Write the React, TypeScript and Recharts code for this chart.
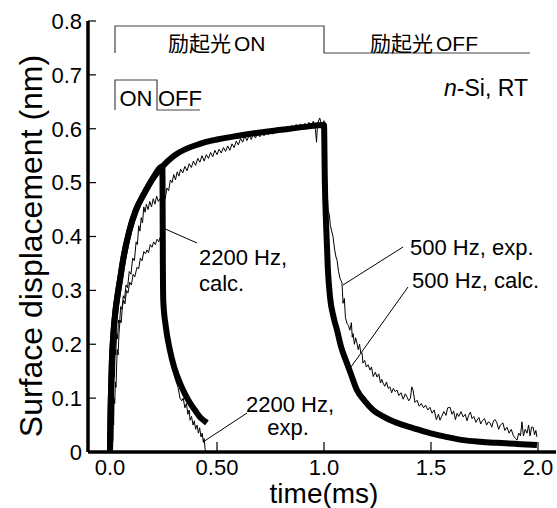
import { ComposedChart, Line, XAxis, YAxis } from 'recharts';

// x domain chosen so 0 ms sits 22px right of the frame and 2.0 ms 18px left of it
const xDomain = [-0.1028, 2.0841];
const xTicks = [0, 0.5, 1.0, 1.5, 2.0];
const xTickLabels = ['0.0', '0.50', '1.0', '1.5', '2.0'];
const yTicks = [0, 0.1, 0.2, 0.3, 0.4, 0.5, 0.6, 0.7, 0.8];
const yTickLabels = ['0', '0.1', '0.2', '0.3', '0.4', '0.5', '0.6', '0.7', '0.8'];

// calculated response, light on (shared by both frequencies)
const riseCalcT = [0, 0.002, 0.004, 0.009, 0.016, 0.025, 0.035, 0.048, 0.061, 0.09, 0.121, 0.16, 0.196, 0.245];
const riseCalcV = [0, 0.06, 0.1, 0.17, 0.22, 0.26, 0.29, 0.323, 0.356, 0.41, 0.449, 0.48, 0.505, 0.53];

// 500 Hz calc, rest of the on period and the off period
const calc500T = [0.3, 0.42, 0.5, 0.6, 0.7, 0.8, 0.9, 1.0, 1.004, 1.01, 1.018, 1.028, 1.045, 1.061, 1.08, 1.107, 1.13, 1.154, 1.19, 1.229, 1.28, 1.341, 1.42, 1.495, 1.57, 1.65, 1.73, 1.808, 1.9, 1.995];
const calc500V = [0.55, 0.572, 0.58, 0.587, 0.593, 0.598, 0.603, 0.607, 0.5, 0.42, 0.34, 0.288, 0.25, 0.226, 0.195, 0.165, 0.14, 0.115, 0.095, 0.078, 0.065, 0.054, 0.044, 0.035, 0.028, 0.022, 0.019, 0.017, 0.015, 0.013];

// 2200 Hz calc, off period
const calc2200T = [0.246, 0.247, 0.249, 0.26, 0.28, 0.3, 0.327, 0.35, 0.374, 0.4, 0.42, 0.44, 0.453];
const calc2200V = [0.45, 0.35, 0.28, 0.235, 0.189, 0.157, 0.128, 0.108, 0.091, 0.076, 0.065, 0.058, 0.054];

// 500 Hz measured
const exp500T = [
  0.008, 0.01, 0.012, 0.014, 0.016, 0.018, 0.021, 0.024, 0.027, 0.031, 0.035, 0.04, 0.045, 0.05, 0.056, 0.062, 0.068, 0.075, 0.082, 0.09,
  0.098, 0.106, 0.114, 0.122, 0.128, 0.134, 0.14, 0.146, 0.152, 0.158, 0.164, 0.17, 0.178, 0.186, 0.194, 0.202, 0.21, 0.218, 0.226, 0.234,
  0.242, 0.25, 0.258, 0.266, 0.274, 0.282, 0.29, 0.298, 0.306, 0.314, 0.322, 0.33, 0.34, 0.35, 0.36, 0.37, 0.38, 0.39, 0.4, 0.41,
  0.42, 0.43, 0.44, 0.45, 0.46, 0.47, 0.48, 0.49, 0.5, 0.51, 0.52, 0.53, 0.54, 0.55, 0.56, 0.57, 0.58, 0.59, 0.6, 0.61,
  0.62, 0.63, 0.64, 0.65, 0.66, 0.67, 0.68, 0.69, 0.7, 0.71, 0.72, 0.73, 0.74, 0.75, 0.76, 0.77, 0.78, 0.79, 0.8, 0.81,
  0.82, 0.83, 0.84, 0.85, 0.86, 0.87, 0.88, 0.89, 0.9, 0.91, 0.92, 0.93, 0.94, 0.95, 0.96, 0.965, 0.97, 0.98, 0.99, 1.0,
  1.005, 1.01, 1.015, 1.019, 1.025, 1.03, 1.036, 1.042, 1.05, 1.056, 1.061, 1.068, 1.075, 1.084, 1.089, 1.095, 1.1, 1.107, 1.114, 1.121,
  1.128, 1.132, 1.136, 1.142, 1.148, 1.154, 1.16, 1.166, 1.172, 1.178, 1.182, 1.19, 1.198, 1.206, 1.215, 1.222, 1.23, 1.24, 1.248, 1.256,
  1.264, 1.27, 1.276, 1.284, 1.292, 1.3, 1.308, 1.316, 1.324, 1.333, 1.341, 1.35, 1.36, 1.37, 1.38, 1.388, 1.396, 1.404, 1.41, 1.416,
  1.425, 1.435, 1.445, 1.455, 1.465, 1.475, 1.485, 1.495, 1.505, 1.515, 1.525, 1.535, 1.542, 1.55, 1.56, 1.57, 1.578, 1.589, 1.598, 1.606,
  1.614, 1.622, 1.63, 1.64, 1.65, 1.66, 1.668, 1.676, 1.684, 1.692, 1.7, 1.71, 1.715, 1.724, 1.732, 1.74, 1.75, 1.76, 1.768, 1.776,
  1.784, 1.792, 1.8, 1.808, 1.816, 1.824, 1.836, 1.845, 1.855, 1.865, 1.875, 1.885, 1.895, 1.902, 1.91, 1.918, 1.925, 1.932, 1.94, 1.949,
  1.956, 1.963, 1.97, 1.977, 1.984, 1.99, 1.995,
];
const exp500V = [
  0, 0.03, 0.08, 0.06, 0.12, 0.15, 0.14, 0.19, 0.18, 0.22, 0.21, 0.245, 0.24, 0.27, 0.265, 0.29, 0.285, 0.31, 0.305, 0.335,
  0.33, 0.36, 0.355, 0.39, 0.385, 0.42, 0.41, 0.435, 0.425, 0.455, 0.445, 0.46, 0.45, 0.465, 0.455, 0.47, 0.46, 0.475, 0.465, 0.47,
  0.455, 0.475, 0.47, 0.49, 0.485, 0.505, 0.5, 0.515, 0.505, 0.52, 0.512, 0.525, 0.518, 0.53, 0.522, 0.535, 0.528, 0.54, 0.532, 0.545,
  0.538, 0.55, 0.54, 0.552, 0.545, 0.556, 0.548, 0.56, 0.552, 0.562, 0.555, 0.565, 0.558, 0.568, 0.56, 0.572, 0.565, 0.577, 0.57, 0.582,
  0.575, 0.586, 0.578, 0.588, 0.58, 0.59, 0.583, 0.592, 0.585, 0.594, 0.587, 0.596, 0.589, 0.598, 0.59, 0.6, 0.592, 0.6, 0.594, 0.603,
  0.596, 0.605, 0.598, 0.606, 0.6, 0.608, 0.6, 0.609, 0.602, 0.61, 0.604, 0.612, 0.603, 0.614, 0.598, 0.575, 0.61, 0.62, 0.606, 0.615,
  0.58, 0.53, 0.48, 0.449, 0.44, 0.42, 0.41, 0.4, 0.375, 0.362, 0.356, 0.335, 0.322, 0.314, 0.276, 0.285, 0.25, 0.239, 0.235, 0.226,
  0.24, 0.213, 0.22, 0.2, 0.212, 0.202, 0.19, 0.2, 0.184, 0.184, 0.165, 0.17, 0.158, 0.162, 0.152, 0.158, 0.14, 0.148, 0.139, 0.145,
  0.128, 0.135, 0.128, 0.122, 0.13, 0.118, 0.121, 0.11, 0.118, 0.112, 0.115, 0.105, 0.11, 0.098, 0.108, 0.102, 0.095, 0.1, 0.121, 0.115,
  0.092, 0.096, 0.085, 0.09, 0.082, 0.087, 0.078, 0.083, 0.072, 0.078, 0.06, 0.07, 0.059, 0.066, 0.075, 0.068, 0.082, 0.083, 0.07, 0.076,
  0.06, 0.072, 0.066, 0.075, 0.065, 0.07, 0.058, 0.068, 0.074, 0.062, 0.066, 0.055, 0.059, 0.064, 0.052, 0.058, 0.062, 0.05, 0.056, 0.054,
  0.046, 0.058, 0.06, 0.054, 0.042, 0.05, 0.054, 0.04, 0.046, 0.035, 0.042, 0.03, 0.025, 0.022, 0.035, 0.03, 0.056, 0.03, 0.042, 0.035,
  0.05, 0.03, 0.046, 0.046, 0.032, 0.04, 0.028,
];

// 2200 Hz measured
const exp2200T = [
  0.009, 0.011, 0.013, 0.015, 0.017, 0.019, 0.022, 0.025, 0.028, 0.031, 0.034, 0.038, 0.042, 0.047, 0.052, 0.058, 0.064, 0.07, 0.077, 0.084,
  0.092, 0.1, 0.108, 0.116, 0.126, 0.134, 0.142, 0.15, 0.158, 0.166, 0.173, 0.18, 0.188, 0.196, 0.204, 0.212, 0.22, 0.228, 0.236, 0.244,
  0.25, 0.256, 0.264, 0.275, 0.29, 0.305, 0.318, 0.327, 0.335, 0.342, 0.35, 0.357, 0.364, 0.37, 0.374, 0.381, 0.388, 0.394, 0.4, 0.407,
  0.413, 0.419, 0.425, 0.431, 0.436, 0.44, 0.444, 0.447,
];
const exp2200V = [
  0, 0.04, 0.02, 0.07, 0.05, 0.1, 0.09, 0.13, 0.12, 0.16, 0.19, 0.18, 0.22, 0.245, 0.24, 0.27, 0.282, 0.275, 0.3, 0.295,
  0.315, 0.31, 0.33, 0.325, 0.343, 0.34, 0.36, 0.355, 0.372, 0.368, 0.375, 0.37, 0.385, 0.38, 0.39, 0.385, 0.395, 0.39, 0.4, 0.395,
  0.33, 0.27, 0.23, 0.19, 0.16, 0.135, 0.12, 0.1, 0.095, 0.1, 0.082, 0.09, 0.07, 0.078, 0.059, 0.066, 0.05, 0.058, 0.042, 0.05,
  0.035, 0.045, 0.028, 0.035, 0.018, 0.025, 0.007, 0,
];

const zip = (ts: number[], vs: number[]) => ts.map((t, i) => ({ t, v: vs[i] }));

const calc500 = zip([...riseCalcT, ...calc500T], [...riseCalcV, ...calc500V]);
const calc2200 = zip([...riseCalcT, ...calc2200T], [...riseCalcV, ...calc2200V]);
const exp500 = zip(exp500T, exp500V);
const exp2200 = zip(exp2200T, exp2200V);

const font = '"Liberation Sans", Arial, "Noto Sans CJK JP", sans-serif';

export default function App() {
  return (
    <div style={{ position: 'relative', width: 557, height: 508, background: '#fff', fontFamily: font }}>
      <style>{'body{margin:0}'}</style>
      <ComposedChart width={557} height={508} margin={{ top: 21, right: 1, bottom: 6, left: 8 }}>
        <XAxis
          xAxisId="b"
          type="number"
          dataKey="t"
          domain={xDomain}
          allowDataOverflow
          ticks={xTicks}
          tickFormatter={(v: number) => xTickLabels[xTicks.indexOf(v)]}
          height={50}
          tickSize={-10}
          tickMargin={17}
          axisLine={{ stroke: '#000', strokeWidth: 3.5 }}
          tickLine={{ stroke: '#000', strokeWidth: 1.2 }}
          tick={{ fill: '#000', fontSize: 22 }}
        />
        <XAxis
          xAxisId="t"
          orientation="top"
          type="number"
          dataKey="t"
          domain={xDomain}
          allowDataOverflow
          height={0}
          tick={false}
          tickLine={false}
          axisLine={{ stroke: '#000', strokeWidth: 3 }}
        />
        <YAxis
          yAxisId="l"
          type="number"
          domain={[0, 0.8]}
          allowDataOverflow
          ticks={yTicks}
          tickFormatter={(v: number) => yTickLabels[yTicks.indexOf(v)]}
          width={80}
          tickSize={-8}
          tickMargin={14}
          axisLine={{ stroke: '#000', strokeWidth: 3.5 }}
          tickLine={{ stroke: '#000', strokeWidth: 1.2 }}
          tick={{ fill: '#000', fontSize: 22 }}
        />
        <YAxis
          yAxisId="r"
          orientation="right"
          type="number"
          domain={[0, 0.8]}
          width={0}
          tick={false}
          tickLine={false}
          axisLine={{ stroke: '#000', strokeWidth: 3 }}
        />
        <Line xAxisId="b" yAxisId="l" data={calc500} dataKey="v" type="monotone" stroke="#000" strokeWidth={6} dot={false} isAnimationActive={false} />
        <Line xAxisId="b" yAxisId="l" data={calc2200} dataKey="v" type="monotone" stroke="#000" strokeWidth={6} dot={false} isAnimationActive={false} />
        <Line xAxisId="b" yAxisId="l" data={exp500} dataKey="v" type="linear" stroke="#000" strokeWidth={1} dot={false} isAnimationActive={false} />
        <Line xAxisId="b" yAxisId="l" data={exp2200} dataKey="v" type="linear" stroke="#000" strokeWidth={1} dot={false} isAnimationActive={false} />
      </ComposedChart>

      <svg width={557} height={508} style={{ position: 'absolute', left: 0, top: 0, pointerEvents: 'none' }}>
        <g fill="none" stroke="#444" strokeWidth={1.2}>
          <polyline points="115,53 115,26 324,26 324,53 530,53" />
          <polyline points="115,110 115,80 157,80 157,110 200,110" />
        </g>
        <g stroke="#000" strokeWidth={1}>
          <line x1={163} y1={228} x2={197} y2={243} />
          <line x1={403} y1={247} x2={343} y2={285} />
          <line x1={408} y1={287} x2={351} y2={367} />
          <line x1={247} y1={413} x2={203} y2={442} />
        </g>
        <g fill="#000" fontSize={22}>
          <text x={168} y={51} fontSize={21}>励起光<tspan dx={3}>ON</tspan></text>
          <text x={370} y={51} fontSize={21}>励起光<tspan dx={3}>OFF</tspan></text>
          <text x={136} y={106} textAnchor="middle">ON</text>
          <text x={180} y={106} textAnchor="middle">OFF</text>
          <text x={528} y={96} textAnchor="end" fontSize={23}>
            <tspan fontStyle="italic">n</tspan>-Si, RT
          </text>
          <text x={199} y={265}>2200 Hz,</text>
          <text x={199} y={291}>calc.</text>
          <text x={410} y={255}>500 Hz, exp.</text>
          <text x={412} y={288}>500 Hz, calc.</text>
          <text x={290} y={412} textAnchor="middle">2200 Hz,</text>
          <text x={288} y={435} textAnchor="middle">exp.</text>
          <text x={324} y={503} textAnchor="middle" fontSize={28}>time(ms)</text>
          <text x={0} y={0} textAnchor="middle" fontSize={32} transform="translate(42,246) rotate(-90)">
            Surface displacement (nm)
          </text>
        </g>
      </svg>
    </div>
  );
}
